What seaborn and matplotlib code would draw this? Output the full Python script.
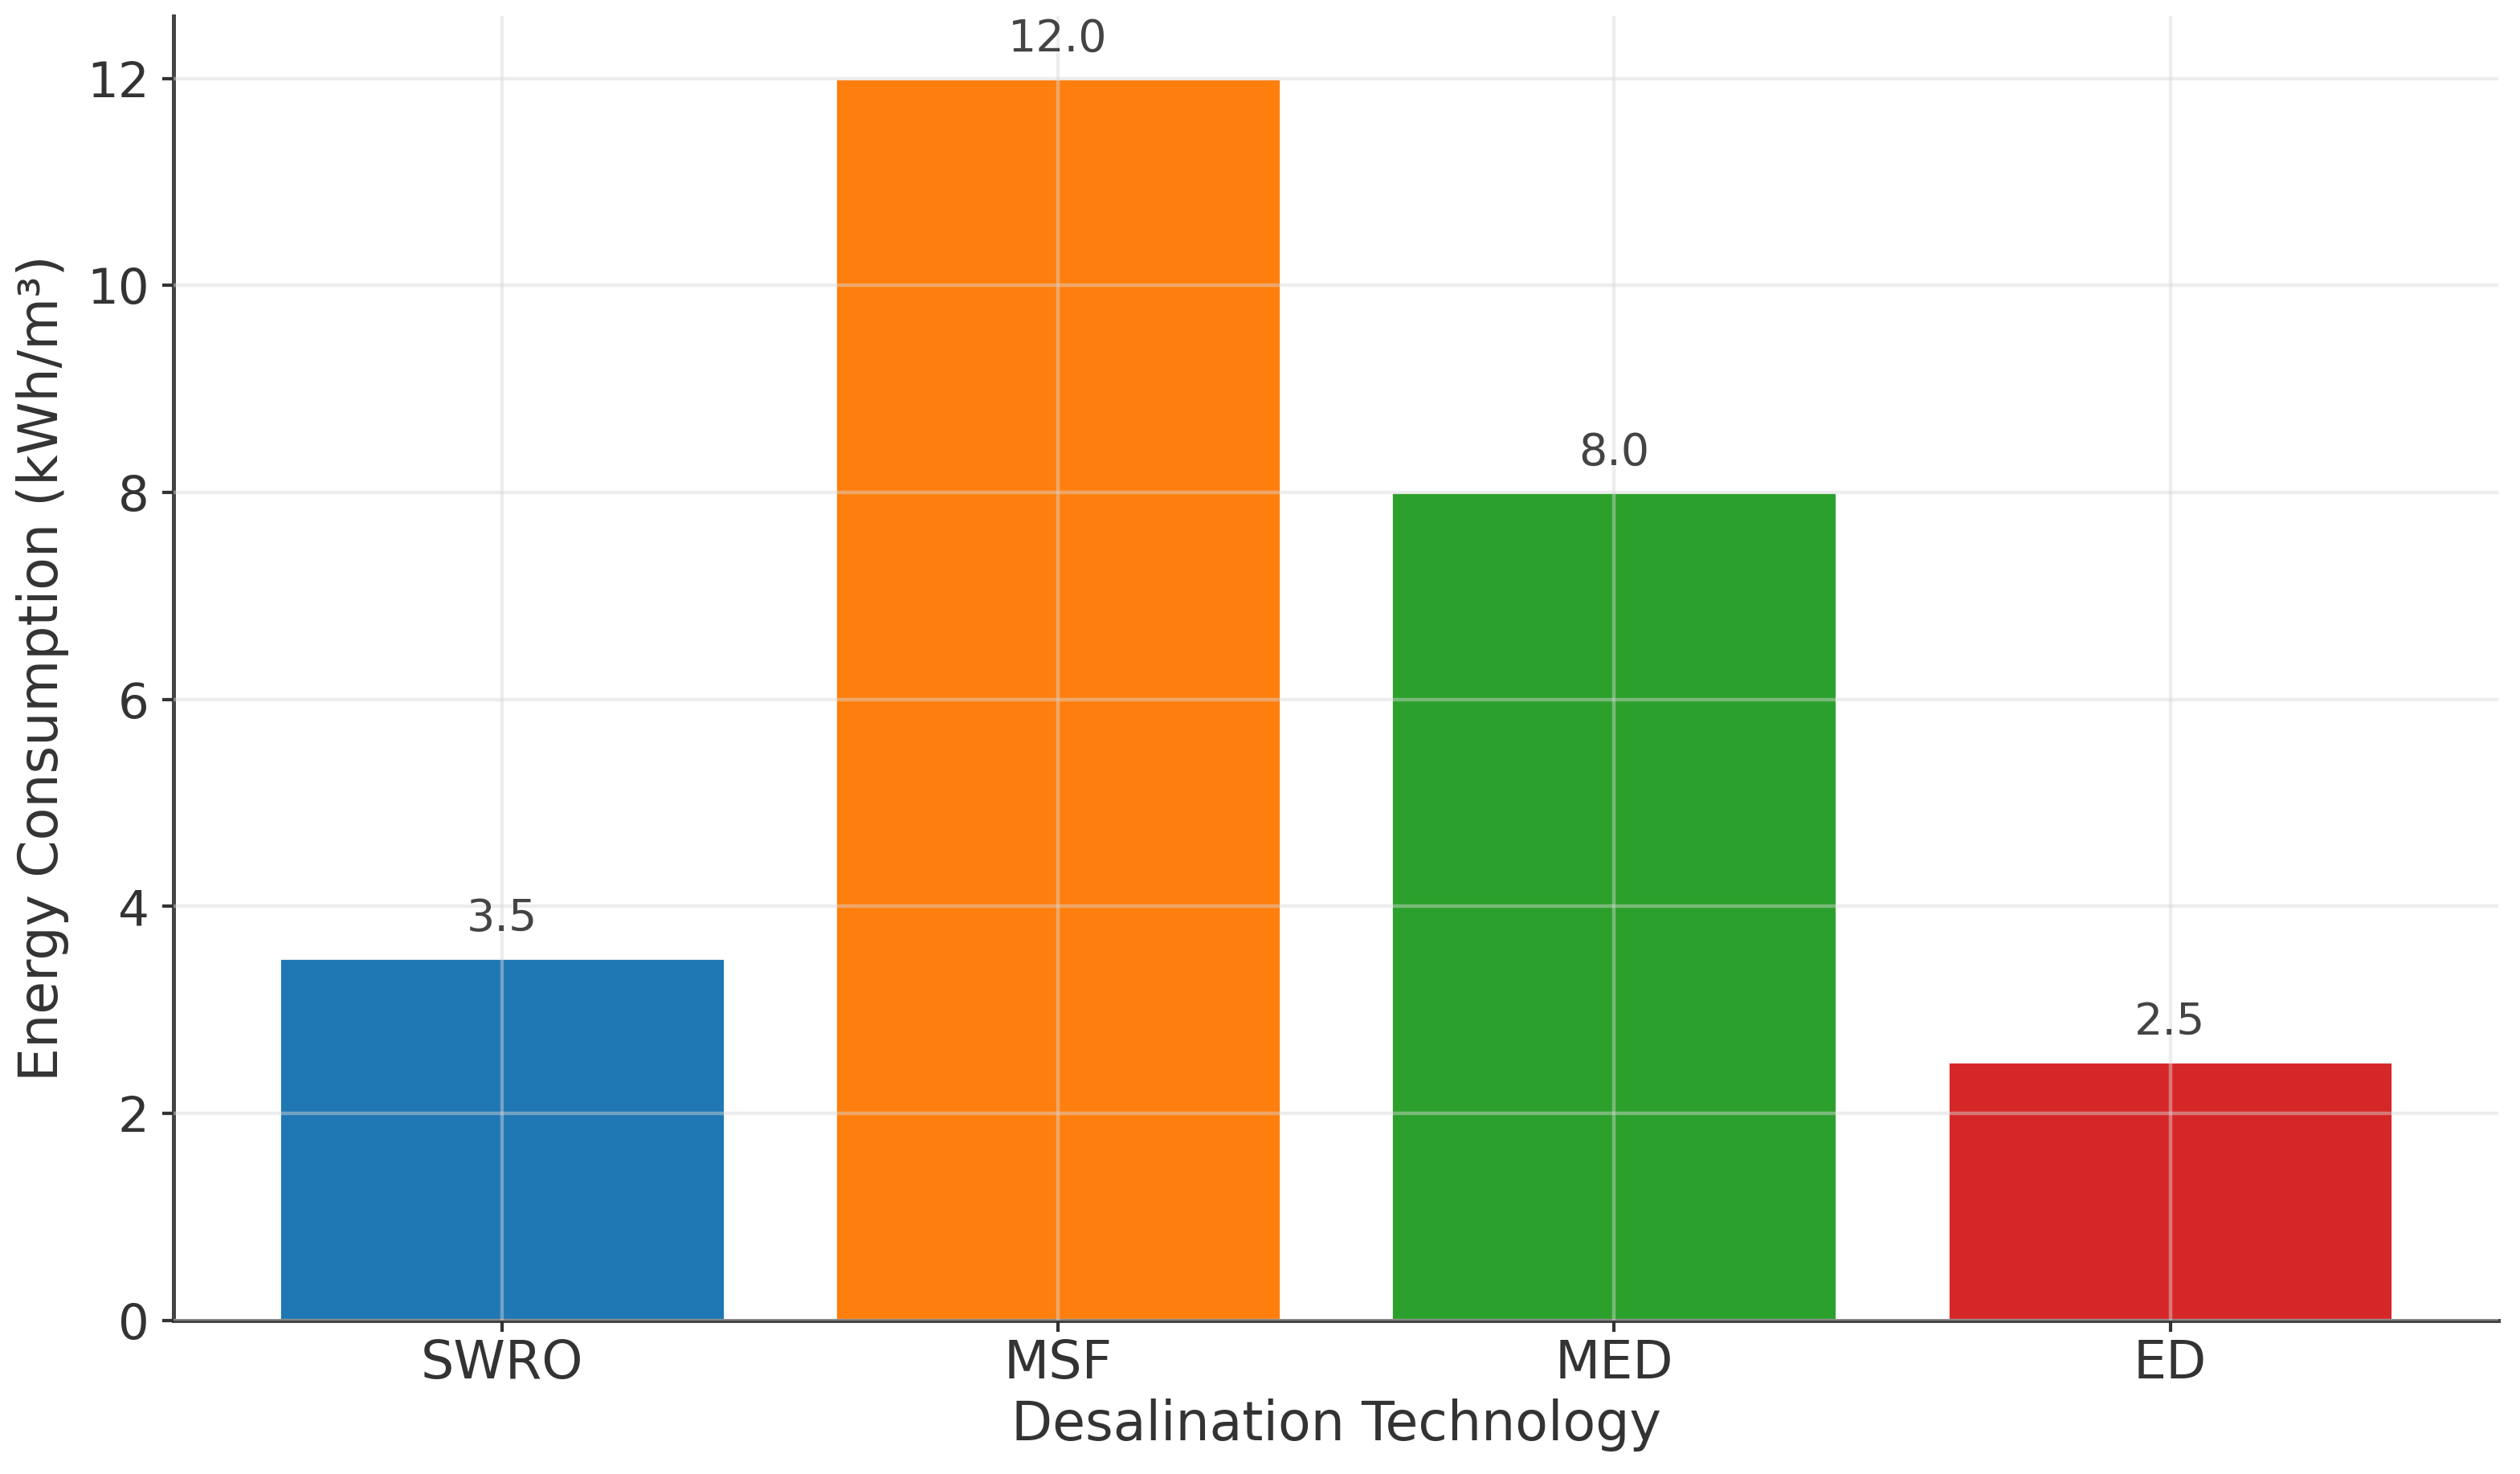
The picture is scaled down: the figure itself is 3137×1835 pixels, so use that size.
import matplotlib
matplotlib.use("Agg")
import matplotlib.pyplot as plt
import seaborn as sns
import pandas as pd

technologies = ["SWRO", "MSF", "MED", "ED"]
energy = [3.5, 12.0, 8.0, 2.5]
bar_colors = ["#1f77b4", "#ff7f0e", "#2ca02c", "#d62728"]

sns.set_style("white")
plt.rcParams['font.family'] = ['DejaVu Sans']

df = pd.DataFrame({"tech": technologies, "energy": energy})

fig = plt.figure(figsize=(3137 / 200, 1835 / 200), dpi=200)
ax = fig.add_axes([0.0689, 0.1041, 0.9914 - 0.0689, 0.989 - 0.1041])

sns.barplot(data=df, x="tech", y="energy", hue="tech", palette=bar_colors,
            width=0.8, saturation=1, legend=False, ax=ax)

ax.set_xlim(-0.59, 3.59)
ax.set_ylim(0, 12.6)
ax.set_yticks([0, 2, 4, 6, 8, 10, 12])

ax.set_axisbelow(False)
ax.grid(True, color="#d9d9d9", alpha=0.45, linewidth=1.6)

for spine in ["top", "right"]:
    ax.spines[spine].set_visible(False)
for spine in ["left", "bottom"]:
    ax.spines[spine].set_color("#444444")
    ax.spines[spine].set_linewidth(1.8)

ax.tick_params(axis="both", which="major", colors="#333333",
               length=5, width=1.5, direction="out", left=True, bottom=True)
ax.tick_params(axis="x", labelsize=23.5, pad=3)
ax.tick_params(axis="y", labelsize=22, pad=6)

ax.set_xlabel("Desalination Technology", fontsize=24, color="#333333", labelpad=4)
ax.set_ylabel("Energy Consumption (kWh/m³)", fontsize=24, color="#333333", labelpad=8)

for container in ax.containers:
    ax.bar_label(container, fmt="%.1f", padding=8, fontsize=20, color="#444444")

fig.savefig("out.png", dpi=200)
